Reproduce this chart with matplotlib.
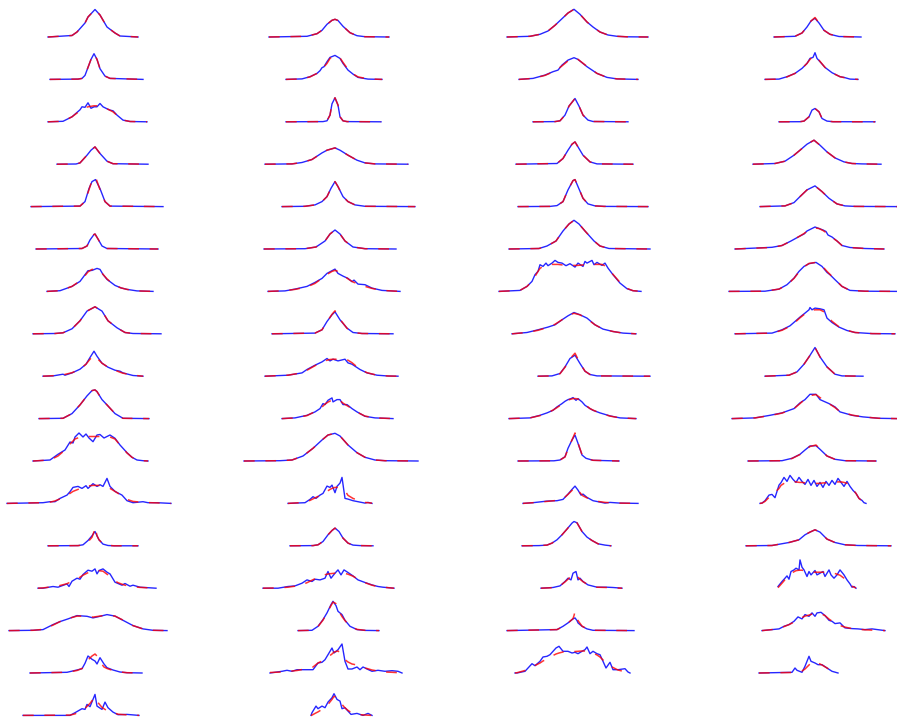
# Grid of 66 line-profile panels: measured profile (blue) and fitted model (red, dashed)
import matplotlib.pyplot as plt

# ---------------- data: column 1 (17 panels) ----------------
x1 = [
    [-46, -22, -17, -9, -6, 1, 6, 13, 21, 26, 44],
    [-44, -16, -12, -9, -6, -3, 0, 3, 6, 11, 16, 49],
    [-46, -31, -22, -14, -12, -9, -6, -3, 0, 3, 6, 9, 13, 16, 19, 23, 29, 36, 53],
    [-37, -18, -14, -7, -3, 1, 6, 13, 19, 54],
    [-63, -14, -9, -5, -2, 1.5, 6, 11, 16, 69],
    [-58, -12, -7, -4, 0, 1, 4, 8, 13, 64],
    [-47, -34, -22, -14, -8, -6, -2, 3, 6, 9, 13, 17, 21, 27, 33, 43, 59],
    [-61, -39, -31, -22, -14, -7, 1, 8, 14, 23, 31, 39, 67],
    [-51, -41, -31, -29, -22, -14, -8, -4, 0, 3, 8, 14, 21, 26, 29, 39, 49],
    [-55, -31, -22, -14, -7, -2, 1, 3, 8, 13, 21, 29, 55],
    [-61, -44, -36, -29, -24, -21, -19, -15, -11, -8, -5, -1, 3, 6, 10, 16, 21, 26, 33, 38, 43, 49, 54],
    [-87, -51, -44, -39, -34, -27, -24, -21, -16, -12, -8, -6, -1, 3, 6, 9, 13, 16, 21, 28, 33, 39, 49, 54, 63, 77],
    [-46, -16, -11, -6, -2, 0, 1, 3, 5, 9, 14, 20, 44],
    [-56, -51, -41, -36, -27, -25, -22, -17, -14, -11, -6, -2, 1, 3, 5, 9, 13, 16, 21, 24, 28, 31, 36, 39, 46, 62],
    [-85, -61, -51, -41, -34, -26, -17, -7, -1, 6, 13, 21, 29, 39, 49, 59, 73],
    [-64, -27, -17, -12, -9, -6, -2, 1, 3, 6, 10, 13, 19, 26, 33, 48],
    [-71, -24, -19, -12, -9, -7, -4, -1, 1, 3, 8, 11, 14, 19, 24, 33, 45],
]
blue1 = [
    [0, 1.5, 5, 14, 20, 27.5, 22, 10, 4, 1, 0],
    [0, 0.3, 1, 4, 12, 20, 25.7, 20, 10.7, 3.3, 1, 0],
    [0, 0.5, 5, 12, 15, 14.5, 19, 13.5, 15, 15, 18.3, 15, 13, 11.7, 11, 6.7, 1.7, 0.3, 0],
    [0, 0.2, 1.3, 9, 14, 17.3, 10.7, 3, 0.5, 0],
    [0, 0.5, 5, 18, 25, 27, 18, 5, 0.5, 0],
    [0, 0.5, 3, 9, 14.5, 15, 10, 3, 0.5, 0],
    [0, 0.7, 5, 10, 18, 20.7, 21, 23, 22, 17, 12, 9, 6, 3.5, 2, 0.5, 0],
    [0, 0.3, 1, 5, 13, 22.7, 27, 22.7, 13, 6, 1.3, 0.3, 0],
    [0, 0.3, 2, 1, 3.3, 7, 12, 18.7, 25, 20, 13, 9, 6, 5, 3.3, 0.7, 0],
    [0, 0.3, 5, 13.7, 22.7, 28, 28.7, 27, 19, 13.7, 5, 0.3, 0],
    [0, 1, 6.7, 11, 19, 18, 24, 28, 24, 27, 23, 19.3, 26, 26.5, 23, 26, 22.7, 16, 8.3, 3.7, 1, 0.3, 0],
    [0, 0.7, 1.7, 1.7, 5, 8.3, 11.7, 16, 17, 15, 17.7, 15, 19.7, 17, 18.7, 17, 25, 17, 12, 8.3, 2.7, 0.7, 1.7, 0.7, 0.7, 0],
    [0, 0.2, 1, 5.3, 10, 13, 14.3, 10, 6, 1.7, 0.3, 0, 0],
    [0, 0, 1.7, 1, 4.3, 1.7, 7, 10, 9, 13.7, 18, 17, 19.3, 14.3, 17.7, 19.3, 16, 14.3, 6, 4.7, 3, 4.7, 2, 3, 1, 0],
    [0, 0.3, 1, 6, 9, 11.7, 15, 14.3, 12.7, 14.3, 16, 14.5, 10.3, 5, 1.7, 0.3, 0],
    [0, 0.7, 3, 4.3, 9.7, 17, 13.7, 12, 9, 15.3, 9, 5.3, 3, 1, 0.3, 0],
    [0, 0, 2.7, 6.7, 6, 11, 8.7, 16, 21, 9.3, 6, 13.3, 7.7, 3.3, 0.7, 1, 0],
]
# None: fit lies on top of the measured profile
red1 = [
    None,
    None,
    [0, 0.5, 5, 11, 13, 14, 15, 15.5, 16, 16, 16, 15.5, 13, 11.5, 10, 6.5, 1.7, 0.3, 0],
    None,
    [0, 0.5, 5, 17, 26, 29.5, 17, 5, 0.5, 0],
    None,
    [0, 0.7, 5, 10.5, 17, 19.5, 22, 22, 21, 17, 12.5, 9, 6, 3.5, 2, 0.5, 0],
    None,
    [0, 0.5, 1.5, 1.8, 3.5, 7, 12, 17, 21, 18, 13, 9, 6, 4, 3, 1, 0],
    None,
    [0, 1, 5, 11, 17, 20, 22, 23.5, 24, 24.5, 24.5, 24.5, 24.5, 24.5, 24.5, 24, 22, 16, 8, 3.7, 1, 0.3, 0],
    [0, 0.7, 1.2, 2.5, 4.5, 8, 10, 12, 14, 15.5, 17, 17.5, 18, 18, 18, 17.5, 16, 15, 12, 7.5, 4, 2, 1, 0.8, 0.5, 0],
    [0, 0.2, 0.7, 4, 8.5, 14, 19, 10, 6, 2, 0.5, 0, 0],
    [0, 0.3, 1.5, 2.2, 4.5, 5.5, 6.5, 9, 11, 13, 15.5, 17, 17.5, 17.5, 17.5, 17, 14, 12.3, 7.3, 5.5, 4, 3, 2, 1.5, 0.8, 0],
    [0, 0.3, 1.2, 5.5, 9, 12, 14.5, 14.5, 13.5, 14.5, 15.5, 14.5, 10.5, 5, 1.7, 0.3, 0],
    [0, 0.7, 2.5, 4.5, 8, 13, 17, 19, 17, 11, 6, 4.5, 2.5, 1, 0.3, 0],
    [0, 0.3, 1.5, 5, 7, 9, 12, 16, 18.5, 14, 8, 6, 4.5, 3, 1.2, 0.5, 0],
]

# ---------------- data: column 2 (17 panels) ----------------
x2 = [
    [-66, -28, -18, -13, -8, -3, 0, 3, 8, 15, 22, 30, 54],
    [-49, -33, -25, -18, -15, -13, -11, -8, -5, 0, 5, 8, 13, 18, 23, 33, 47],
    [-49, -12, -8, -5, -3, 0, 3, 5, 8, 12, 46],
    [-70, -43, -33, -23, -13, -8, 0, 5, 13, 22, 30, 40, 73],
    [-53, -30, -20, -13, -8, -4, 0, 3, 8, 13, 20, 30, 80],
    [-71, -30, -19, -10, -5, 0, 5, 10, 18, 30, 61],
    [-67, -50, -40, -28, -20, -13, -8, -3, 0, 3, 8, 13, 17, 19, 23, 30, 37, 47, 65],
    [-63, -20, -13, -8, -3, 0, 5, 12, 18, 27, 58],
    [-70, -47, -33, -28, -20, -13, -8, -5, -2, 3, 10, 13, 17, 20, 25, 32, 42, 53, 63],
    [-53, -40, -28, -20, -15, -12, -10, -7, -3, -2, 2, 5, 8, 12, 17, 22, 30, 40, 58],
    [-91, -55, -43, -32, -22, -13, -7, 0, 5, 13, 22, 30, 40, 50, 83],
    [-47, -30, -25, -22, -19, -15, -12, -8, -5, -3, 0, 2, 5, 7, 10, 13, 18, 23, 30, 33, 37],
    [-45, -22, -17, -12, -7, -3, 0, 4, 8, 13, 18, 25, 38],
    [-72, -57, -47, -40, -33, -28, -23, -20, -15, -10, -7, -4, 0, 3, 6, 9, 13, 18, 23, 30, 37, 43, 48, 59],
    [-37, -23, -17, -12, -8, -4, -2, 1, 3, 7, 10, 15, 22, 30, 44],
    [-65, -53, -48, -43, -38, -30, -22, -17, -13, -10, -7, -3, -1, 3, 7, 10, 13, 17, 22, 25, 28, 32, 37, 43, 50, 57, 63, 67],
    [-24, -23, -19, -17, -13, -10, -7, -3, -1, 2, 5, 7, 10, 13, 16, 22, 28, 33, 37],
]
blue2 = [
    [0, 0.7, 3.3, 6.7, 12.7, 16.7, 17.7, 16.5, 10.7, 4.3, 1.3, 0.3, 0],
    [0, 0.5, 2.7, 6, 8.7, 11.7, 12.7, 17.7, 22, 24, 21, 16, 9.3, 5.3, 2, 0.3, 0],
    [0, 0.2, 1, 6.7, 18, 24, 16.7, 5, 1, 0.2, 0],
    [0, 0.3, 1.7, 4.7, 11.3, 14, 16.3, 14, 9, 4, 1.3, 0.3, 0],
    [0, 0.3, 1.7, 5, 10, 18.3, 25, 20, 10, 5, 1.7, 0.3, 0],
    [0, 0.3, 2, 8, 15, 19, 15, 8, 2, 0.3, 0],
    [0, 0.5, 2.3, 5, 9, 13, 18, 20.7, 22.3, 18, 15.3, 13, 9.7, 11.3, 7.3, 6.7, 3.3, 1, 0],
    [0, 0.7, 4, 12.3, 19, 22, 14, 5.7, 1.3, 0.3, 0],
    [0, 1, 3.3, 6.7, 11, 14.3, 17.7, 15.3, 17, 15.3, 17, 13.3, 12, 10, 6.7, 3.3, 1, 0.2, 0],
    [0, 0.7, 3.3, 6.7, 10, 15, 14, 18.3, 20.7, 16.7, 19, 19, 14, 14, 10, 6.7, 2.3, 0.7, 0],
    [0, 0.3, 1, 5, 12.7, 21, 26, 27.7, 25, 16, 8.3, 3.7, 1, 0.3, 0],
    [0, 0.7, 4, 6.7, 5, 8.3, 10, 17.3, 16, 18.3, 10.7, 17, 20.3, 26, 5, 4.3, 2.7, 1.7, 0.3, 1, 0],
    [0, 0.2, 1, 4.3, 11, 15.3, 17.7, 14.3, 7.7, 2.7, 0.7, 0.2, 0],
    [0, 0, 1.7, 2.3, 5, 8.3, 6.7, 9, 8.3, 10, 16.7, 10, 15, 18.3, 13.3, 18.3, 15.7, 12.3, 8.3, 5.7, 3.3, 1.7, 1, 0],
    [0, 0.3, 4.3, 11, 17.7, 26, 29.3, 25, 19.3, 16, 10.3, 4.3, 1, 0.2, 0],
    [0, 1.7, 2.7, 1.7, 3.3, 3.3, 3.3, 10, 10.7, 13.3, 18.3, 25, 20, 23.3, 29, 11.7, 4, 4, 6, 3.3, 6, 4, 1.7, 2.7, 1.7, 2.3, 1.7, 0],
    [0, 2.7, 9.3, 6.7, 9.3, 7.7, 13.3, 17.7, 21.7, 16, 14.3, 6.7, 7.7, 4.3, 1, 2, 0, 2, 0],
]
red2 = [
    None,
    [0, 0.5, 2.5, 6, 8, 10, 12.5, 16, 21, 24, 21.5, 17, 10, 5.5, 2.5, 0.5, 0],
    None,
    None,
    None,
    None,
    [0, 0.7, 2, 4.5, 8, 13, 17, 20, 21, 20, 16.5, 12.5, 10, 9, 7.5, 5, 3, 1, 0],
    [0, 0.7, 4, 12, 19.5, 23, 14.5, 5.5, 1.3, 0.3, 0],
    [0, 1, 3.5, 6, 10.5, 14, 16, 16.7, 17, 17, 17, 16, 13.5, 11, 7, 3.5, 1, 0.2, 0],
    [0, 0.7, 3, 7, 10, 12.5, 14.5, 16.5, 18.5, 18.7, 19, 18, 15.5, 13, 10, 6.5, 2.5, 0.7, 0],
    None,
    [0, 1, 3, 4.5, 6, 8, 10, 12, 14, 15, 16, 16, 15.5, 14, 12.7, 8, 5, 3, 1, 0.7, 0.3],
    None,
    [0, 0.3, 1, 2, 3.5, 5.5, 8, 9.5, 12, 13.5, 14.2, 14.6, 15, 15, 15, 15, 14, 12, 9, 5.5, 3, 1.5, 1, 0],
    [0, 0.3, 4, 10.5, 17.5, 25, 28.5, 27, 21, 14, 10, 4.5, 1.2, 0.3, 0],
    [0.5, 1, 1.5, 2, 2.5, 4, 6, 10, 12, 14, 16, 19, 21, 22, 18.5, 13.3, 11, 9, 8, 7, 5.5, 4.5, 3, 2, 1, 0.7, 0.3, 0],
    [0, 0.3, 2.5, 3.5, 6, 8, 11, 16, 19, 18, 14, 11, 7.5, 5, 3, 1, 0.5, 0.2, 0],
]

# ---------------- data: column 3 (16 panels) ----------------
x3 = [
    [-67, -44, -34, -26, -19, -12, -6, 0, 6, 13, 19, 26, 34, 43, 53, 74],
    [-55, -41, -29, -21, -16, -12, -6, 0, 4, 13, 23, 33, 43, 64],
    [-41, -19, -14, -9, -5, 1, 5, 9, 14, 19, 54],
    [-58, -17, -11, -6, -2, 1, 4, 9, 16, 23, 59],
    [-56, -24, -17, -11, -6, -1, 1, 4, 9, 14, 21, 30, 74],
    [-65, -35, -27, -18, -11, -5, 0, 5, 11, 20, 26, 35, 76],
    [-75, -54, -47, -42, -39, -36, -34, -31, -28, -26, -22, -19, -16, -12, -8, -4, 1, 4, 9, 11, 13, 18, 20, 23, 28, 31, 34, 39, 46, 53, 59, 67],
    [-62, -47, -36, -26, -19, -12, -6, 0, 6, 13, 21, 29, 39, 49, 62],
    [-36, -22, -14, -9, -4, 1, 6, 11, 16, 23, 76],
    [-65, -44, -34, -27, -21, -17, -12, -9, -6, -3, -1, 2, 4, 8, 11, 16, 19, 26, 36, 46, 62],
    [-56, -20, -14, -9, -6, -2, 1, 4, 8, 12, 19, 45],
    [-51, -41, -27, -17, -11, -6, -2, 1, 4, 7, 9, 13, 19, 24, 31, 36, 46, 64],
    [-52, -35, -27, -22, -17, -12, -7, -2, 0, 3, 8, 13, 18, 24, 31, 37],
    [-33, -21, -14, -9, -6, -3, -1, 2, 4, 6, 9, 14, 23, 33, 39, 48],
    [-67, -17, -11, -6, -1, 0, 1, 3, 4, 8, 13, 19, 60],
    [-59, -57, -49, -42, -39, -34, -31, -27, -24, -18, -15, -11, -6, -2, 1, 4, 8, 11, 13, 16, 19, 23, 26, 29, 32, 36, 39, 44, 51, 54, 56],
]
blue3 = [
    [0, 0.7, 2.7, 6, 11.7, 18.3, 24, 27.7, 22.7, 15, 10, 5, 2, 0.7, 0.2, 0],
    [0, 1, 4.3, 7.7, 9.3, 14.3, 19.3, 21.7, 20, 12.7, 6, 2, 0.5, 0],
    [0, 0.2, 1, 6.7, 15.7, 23.3, 15.7, 6.7, 1.7, 0.3, 0],
    [0, 0.7, 5.7, 14, 20, 22.3, 17.3, 9, 2.3, 0.3, 0],
    [0, 0.2, 1, 5, 16.7, 26, 27, 20, 8.3, 2.7, 0.7, 0.2, 0],
    [0, 0.5, 3, 8, 18, 25, 28.7, 25, 18, 8, 3, 0.5, 0],
    [0, 1, 5, 10, 16.7, 20, 26.7, 25, 28.3, 25.7, 28.3, 31, 29, 28.3, 25.7, 27.7, 24.3, 28.3, 25, 30, 28.3, 31, 26.7, 29, 26, 28.3, 23.3, 16.7, 8.3, 2.7, 0.7, 0],
    [0, 1.3, 4, 6.7, 9, 14, 18, 21.3, 19, 15.7, 9, 4.7, 2.3, 0.7, 0],
    [0, 0.3, 2.7, 9.3, 17.7, 21, 12.7, 5, 1.7, 0.3, 0],
    [0, 0.7, 3.3, 5.7, 8.3, 11.7, 15, 17.3, 19, 20, 21, 18.3, 20, 16.7, 13.3, 10, 8.3, 5.7, 2.7, 0.7, 0],
    [0, 0.2, 1, 4.3, 12.7, 21, 26, 17.7, 6, 2.7, 0.7, 0],
    [0, 0.7, 2.3, 2.7, 4, 9.3, 14, 17.3, 13.3, 8.3, 9.3, 6, 2.7, 1.7, 0.3, 1, 0.3, 0],
    [0, 0.2, 0.7, 2.7, 6, 11, 16.7, 22.7, 24.3, 23, 14.3, 8.7, 5.3, 2, 0.7, 0],
    [0, 0.7, 2.3, 6.7, 10, 8.3, 15, 16.7, 8.3, 10, 6.7, 3.3, 1, 1, 0.7, 0],
    [0, 1, 4.3, 7.7, 11.7, 12.2, 12.7, 10, 7.7, 4.3, 1.7, 0.3, 0],
    [0, 0, 1.7, 9.3, 7.3, 11.7, 16, 16.7, 18.3, 25, 26.7, 21.7, 21.7, 20, 20.7, 19.3, 21.7, 23.3, 26, 19.3, 21.7, 19.3, 18.3, 11.7, 5, 10.7, 3.3, 3.3, 4.3, 1, 0],
]
red3 = [
    None,
    [0, 1, 4, 7.5, 10.5, 13.5, 18.5, 21.5, 20, 13, 6, 2, 0.5, 0],
    None,
    None,
    None,
    None,
    [0, 1, 5, 10, 15, 20, 23, 25, 26, 26.5, 27, 27, 27, 26.5, 26, 26, 26, 26, 26.5, 26.5, 26.5, 27, 27, 27, 27, 25.5, 23, 17, 9, 3, 0.7, 0],
    [0, 1.3, 3.5, 6.5, 9.5, 14, 18.5, 20.5, 19, 15, 9, 4.7, 2.3, 0.7, 0],
    [0, 0.3, 2.5, 9, 17.5, 23, 13, 5, 1.7, 0.3, 0],
    [0, 0.7, 3, 5.5, 8.5, 11, 14.5, 16.5, 18.5, 19.5, 20, 20, 19.5, 17, 14, 10, 8.5, 5.5, 2.5, 0.7, 0],
    [0, 0.2, 1, 4, 12, 21, 28, 18, 6.5, 2.7, 0.7, 0],
    [0, 0.7, 2, 3, 4.5, 9, 13, 16.5, 13, 9.5, 7.5, 5.5, 3, 2, 1, 0.7, 0.3, 0],
    None,
    [0, 0.5, 2.3, 6.3, 9, 12, 13.5, 14, 11, 9, 6.5, 3.5, 1, 0.7, 0.3, 0],
    [0, 1, 4, 7.5, 12, 15, 19, 13, 10, 4.5, 1.7, 0.3, 0],
    [0, 0.3, 2.5, 5.5, 7.5, 10, 12, 14, 16, 19, 20, 21, 21.3, 21.5, 21.5, 21.7, 22, 22, 22, 21.5, 20, 18, 16, 13, 10, 7.5, 5.5, 3, 1.2, 0.5, 0],
]

# ---------------- data: column 4 (16 panels) ----------------
x4 = [
    [-41, -20, -13, -8, -4, 0, 4, 9, 15, 24, 46],
    [-50, -36, -28, -20, -13, -8, -5, -2, 0, 2, 5, 10, 17, 25, 29, 35, 43],
    [-36, -15, -11, -6, -3, 0, 4, 7, 12, 18, 60],
    [-62, -40, -30, -21, -15, -8, -1, 5, 12, 20, 29, 37, 47, 66],
    [-55, -30, -21, -15, -8, 0, 7, 14, 22, 30, 40, 82],
    [-80, -43, -33, -24, -15, -11, -8, -3, 0, 4, 8, 11, 13, 17, 22, 27, 35, 50, 69],
    [-86, -50, -36, -28, -21, -16, -11, -6, 1, 7, 12, 15, 20, 27, 35, 50, 82],
    [-80, -43, -33, -25, -20, -15, -10, -6, -5, -3, 0, 5, 9, 12, 17, 24, 32, 40, 57, 80],
    [-50, -26, -18, -11, -6, 0, 5, 12, 20, 27, 48],
    [-83, -60, -45, -33, -21, -15, -10, -5, 1, 5, 14, 20, 25, 37, 48, 64, 82],
    [-67, -33, -23, -15, -10, -5, 1, 5, 12, 20, 30, 61],
    [-55, -53, -50, -46, -43, -40, -36, -34, -31, -28, -25, -22, -19, -16, -13, -10, -7, -4, -1, 2, 5, 8, 11, 14, 17, 20, 23, 26, 29, 32, 35, 38, 41, 44, 47, 49, 51],
    [-69, -43, -26, -16, -10, -5, 0, 5, 12, 20, 30, 43, 76],
    [-37, -33, -30, -28, -26, -24, -21, -19, -16, -15, -13, -11, -8, -6, -4, 0, 2, 5, 8, 10, 14, 16, 19, 22, 25, 29, 32, 35, 37, 39, 41],
    [-53, -43, -36, -31, -26, -21, -17, -13, -10, -6, -3, 0, 2, 6, 10, 14, 17, 20, 25, 30, 37, 43, 50, 57, 70],
    [-56, -23, -20, -18, -13, -10, -6, -4, 0, 3, 7, 12, 17, 23],
]
blue4 = [
    [0, 0.7, 4, 10, 16, 18.7, 14, 6.7, 2.7, 0.5, 0],
    [0, 0.3, 2.7, 6, 11, 16, 21, 22, 26.7, 21, 17.7, 12, 6.7, 2.7, 2, 0.3, 0],
    [0, 0.1, 0.7, 5, 11.7, 13.3, 10, 3.3, 0.7, 0.1, 0],
    [0, 0.7, 3, 9, 14, 20, 24, 19, 12.3, 6.3, 2.3, 0.7, 0.3, 0],
    [0, 0.7, 4, 10, 16.7, 20.7, 15, 8.3, 2.7, 0.7, 0.2, 0],
    [0, 1.7, 3.5, 8, 13, 15, 18, 20.5, 22, 20.5, 19, 17.5, 14, 12, 8, 3.5, 1.5, 0.5, 0],
    [0, 0.2, 2.3, 6.7, 13.3, 20, 25, 27.7, 29, 25, 19, 16.7, 11.7, 5, 1, 0.2, 0],
    [0, 0.7, 4, 8, 12.3, 16.7, 20.7, 24, 26.3, 24, 25.7, 25, 24, 15.7, 11.3, 6.7, 3.3, 1.3, 0.2, 0],
    [0, 1, 4.3, 12, 19.3, 28.7, 19.3, 9.3, 2, 0.3, 0],
    [0, 0.7, 3.3, 5.7, 10, 15.7, 19, 24.3, 24.3, 19, 15, 11.7, 6.7, 3.3, 1.7, 0.3, 0],
    [0, 0.3, 2.7, 6.7, 11, 15, 15.3, 11.7, 5, 1.7, 0.3, 0],
    [0, 0.3, 2.7, 8.3, 9, 5.7, 18.3, 20.7, 26, 22, 28, 24, 21, 26, 22, 19, 24, 18, 23, 17, 21, 16, 22, 18, 23, 19, 25, 21, 17, 22, 17, 13, 10, 5, 3, 0.7, 0],
    [0, 0.3, 3.3, 6, 11, 13.7, 16, 13.7, 6.7, 3.3, 1, 0.3, 0],
    [1.7, 6.7, 10, 12.3, 9, 16.7, 18.3, 20, 18.3, 28.3, 21, 18.3, 11.7, 16.7, 13.3, 17.7, 13.3, 15, 16.7, 11.7, 18.3, 13.3, 10, 13.3, 18.3, 13.3, 8.3, 4.3, 1, 1.7, 0],
    [0, 1, 1.7, 4.3, 6, 9.3, 13.7, 11.7, 16, 14.3, 17.7, 14.3, 17.7, 18.3, 15, 10.3, 9.3, 7, 7.7, 2.7, 2, 1.7, 1, 1.7, 0],
    [0, 0.7, 5, 2.7, 0.7, 6.7, 16.7, 11.7, 10, 8.3, 8.3, 5, 1.7, 0],
]
red4 = [
    [0, 0.7, 4, 10, 16, 19.5, 14, 6.7, 2.7, 0.5, 0],
    [0, 0.3, 2.5, 6, 11, 16, 20, 23, 24, 22, 18, 12, 6.5, 2.7, 1.8, 0.5, 0],
    None,
    None,
    None,
    [0, 1.5, 3.5, 8, 13, 15.5, 17.5, 20, 21, 20.5, 18.5, 16.5, 14.5, 11.5, 8, 3.5, 1.5, 0.5, 0],
    [0, 0.2, 2.3, 6.5, 13, 19.5, 24.5, 28, 29, 25.5, 20, 17, 12, 5, 1, 0.2, 0],
    [0, 0.7, 3.5, 7.5, 11.5, 16, 20, 22.5, 23, 23.5, 24, 24, 22, 18, 12.5, 7, 3.5, 1.3, 0.2, 0],
    None,
    [0, 0.7, 3, 5.5, 10, 15, 19.5, 23, 24, 21, 15, 11, 7, 3.5, 1.7, 0.3, 0],
    [0, 0.3, 2.5, 6.5, 11, 14.5, 16, 12, 5, 1.7, 0.3, 0],
    [0, 0.3, 2, 6, 8, 11, 15, 18, 20, 21.5, 22, 22, 21.5, 21, 21, 20.5, 20, 20, 20, 20, 20, 20.5, 20.5, 21, 21, 21, 21.5, 21.5, 21, 20, 18, 14, 10, 5, 2.5, 0.7, 0],
    None,
    [0.5, 5, 8.5, 10, 12, 14, 16.5, 17.5, 18, 18, 18, 17.5, 17, 16.5, 16, 16, 16, 16, 16, 16, 16, 15.5, 15, 14, 13, 10, 7, 4, 2, 1, 0.3],
    [0, 1, 2.5, 4, 6, 8.5, 11, 13, 14.5, 15.5, 16.5, 17, 17, 17, 15, 11.5, 9.5, 7.5, 5, 3.5, 2, 1.2, 0.8, 0.5, 0],
    [0, 0.5, 1, 1.5, 2, 4, 8, 10, 11.7, 10, 8, 5, 2, 0],
]

columns = [(x1, blue1, red1), (x2, blue2, red2), (x3, blue3, red3), (x4, blue4, red4)]

# ---------------- layout (pixels) ----------------
W, H = 897, 721
col_center = [94, 335, 574, 815]
first_base = 37
pitch = 42.4
below = 5.3
half_w = 120

fig = plt.figure(figsize=(W / 100, H / 100), dpi=100)

for c, (xs_col, blue_col, red_col) in enumerate(columns):
    for r, (xs, yb, yr) in enumerate(zip(xs_col, blue_col, red_col)):
        base = first_base + r * pitch
        ax = fig.add_axes([(col_center[c] - half_w) / W, (H - base - below) / H,
                           2 * half_w / W, pitch / H])
        ax.set_xlim(-half_w, half_w)
        ax.set_ylim(-below, pitch - below)
        fit = yr if yr is not None else yb
        # data underneath, dashed fit drawn over it
        ax.plot(xs, yb, color='blue', lw=1.0, alpha=0.85)
        ax.plot(xs, fit, color='red', lw=1.1, alpha=0.8, linestyle=(0, (7, 7)))
        ax.axis('off')

fig.savefig('out.png', dpi=100)
